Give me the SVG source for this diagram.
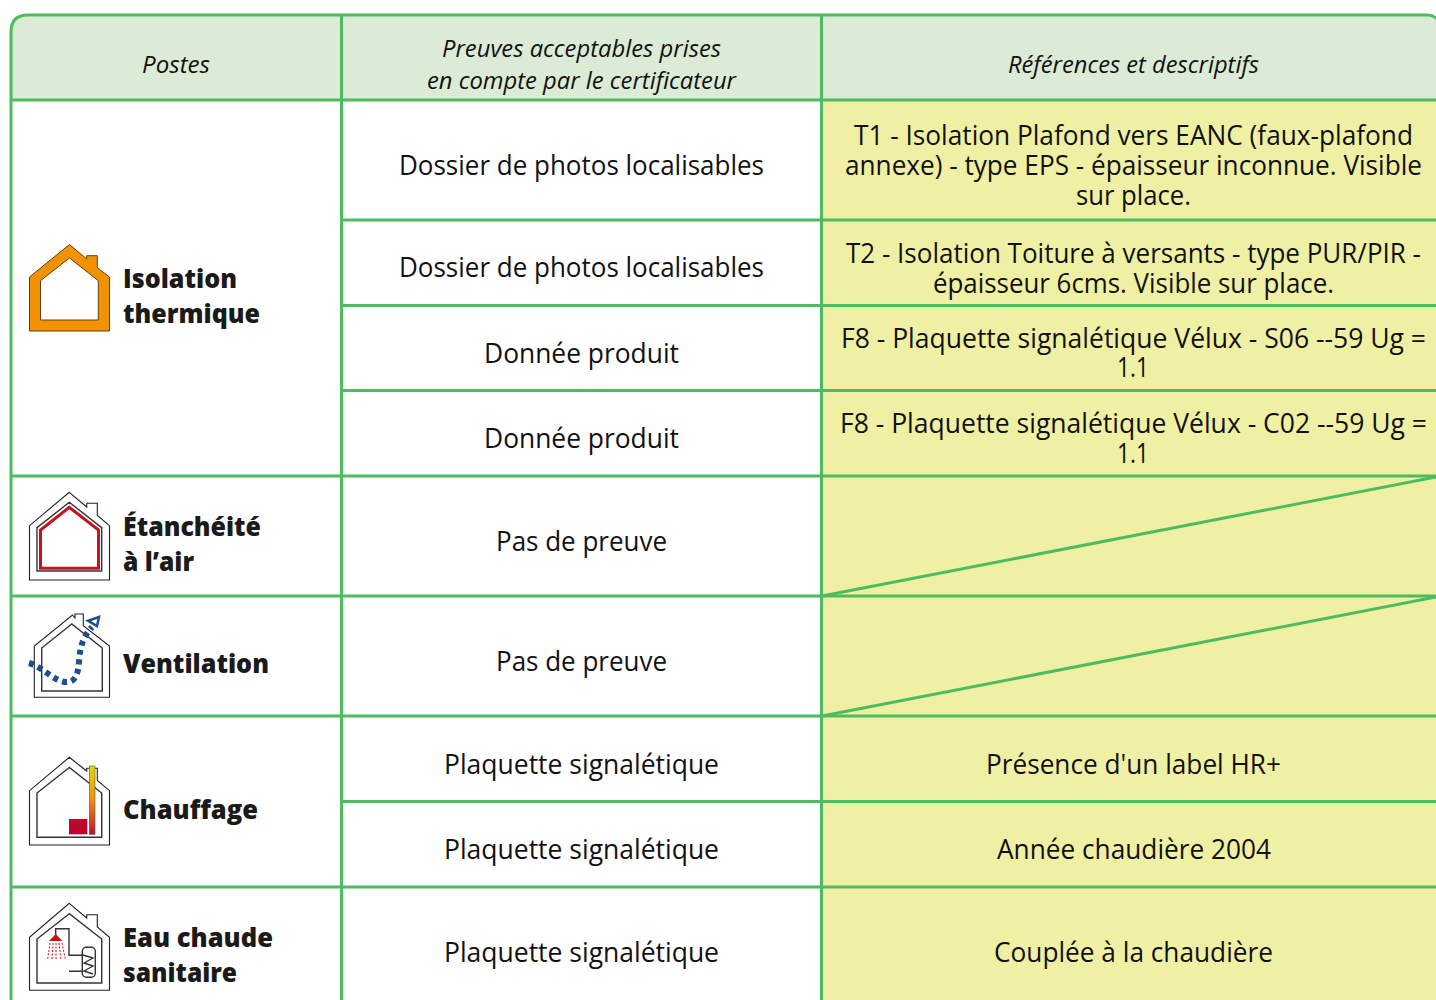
<svg xmlns="http://www.w3.org/2000/svg" width="1436" height="1000" viewBox="0 0 1436 1000">
<style>
text{font-family:"Open Sans","Noto Sans","Liberation Sans",sans-serif;fill:#111;text-anchor:middle}
.h{font-size:23px;font-style:italic}
.b{font-size:26.5px}
.p{font-size:27px;font-weight:800;text-anchor:start;fill:#1a1a1a}
.g{fill:none;stroke:#4dbb5f;stroke-width:3}
.o{fill:#fff;stroke:#222;stroke-width:1.1}
.i{fill:none;stroke:#333;stroke-width:1.4}
</style>
<defs><linearGradient id="fl" x1="0" y1="0" x2="0" y2="1"><stop offset="0" stop-color="#e0d800"/><stop offset=".5" stop-color="#f09010"/><stop offset="1" stop-color="#c0102e"/></linearGradient></defs>
<rect width="1436" height="1000" fill="#fff"/>
<g id="backgrounds">
<path d="M11 1000V32Q11 15 28 15H1428Q1433 15 1436 18V100H11Z" fill="#dbebd6"/>
<rect x="11" y="100" width="1425" height="900" fill="#fff"/>
<rect x="822" y="100" width="614" height="900" fill="#f0f0a4"/>
</g>
<g id="connectors">
<path class="g" d="M11 1000V32Q11 15 28 15H1428Q1433 15 1437 19"/>
<path class="g" d="M341.500 15V1000M821.500 15V1000"/>
<path class="g" d="M11 100H1436M341.500 220H1436M341.500 305.500H1436M341.500 390.500H1436M11 476H1436M11 596H1436M11 716H1436M341.500 801.500H1436M11 887H1436"/>
<path class="g" d="M822 596L1436 477M822 716L1436 597"/>
</g>
<g id="header">
<text class="h" x="176" y="73" textLength="68" lengthAdjust="spacingAndGlyphs">Postes</text>
<text class="h" x="581.500" y="57" textLength="279" lengthAdjust="spacingAndGlyphs">Preuves acceptables prises</text>
<text class="h" x="581.500" y="89" textLength="309" lengthAdjust="spacingAndGlyphs">en compte par le certificateur</text>
<text class="h" x="1133.500" y="73" textLength="251" lengthAdjust="spacingAndGlyphs">Références et descriptifs</text>
</g>
<g id="preuves">
<text class="b" x="581.500" y="175" textLength="365" lengthAdjust="spacingAndGlyphs">Dossier de photos localisables</text>
<text class="b" x="581.500" y="277" textLength="365" lengthAdjust="spacingAndGlyphs">Dossier de photos localisables</text>
<text class="b" x="581.500" y="363" textLength="195" lengthAdjust="spacingAndGlyphs">Donnée produit</text>
<text class="b" x="581.500" y="448" textLength="195" lengthAdjust="spacingAndGlyphs">Donnée produit</text>
<text class="b" x="581.500" y="551" textLength="171" lengthAdjust="spacingAndGlyphs">Pas de preuve</text>
<text class="b" x="581.500" y="671" textLength="171" lengthAdjust="spacingAndGlyphs">Pas de preuve</text>
<text class="b" x="581.500" y="774" textLength="275" lengthAdjust="spacingAndGlyphs">Plaquette signalétique</text>
<text class="b" x="581.500" y="859" textLength="275" lengthAdjust="spacingAndGlyphs">Plaquette signalétique</text>
<text class="b" x="581.500" y="962" textLength="275" lengthAdjust="spacingAndGlyphs">Plaquette signalétique</text>
</g>
<g id="references">
<text class="b" x="1133.500" y="145" textLength="559" lengthAdjust="spacingAndGlyphs">T1 - Isolation Plafond vers EANC (faux-plafond</text>
<text class="b" x="1133.500" y="175" textLength="577" lengthAdjust="spacingAndGlyphs">annexe) - type EPS - épaisseur inconnue. Visible</text>
<text class="b" x="1133.500" y="205" textLength="115" lengthAdjust="spacingAndGlyphs">sur place.</text>
<text class="b" x="1133.500" y="263" textLength="575" lengthAdjust="spacingAndGlyphs">T2 - Isolation Toiture à versants - type PUR/PIR -</text>
<text class="b" x="1133.500" y="293" textLength="401" lengthAdjust="spacingAndGlyphs">épaisseur 6cms. Visible sur place.</text>
<text class="b" x="1133.500" y="348" textLength="585" lengthAdjust="spacingAndGlyphs">F8 - Plaquette signalétique Vélux - S06 --59 Ug =</text>
<text class="b" x="1133" y="377" textLength="32" lengthAdjust="spacingAndGlyphs">1.1</text>
<text class="b" x="1133.500" y="433" textLength="587" lengthAdjust="spacingAndGlyphs">F8 - Plaquette signalétique Vélux - C02 --59 Ug =</text>
<text class="b" x="1133" y="463" textLength="32" lengthAdjust="spacingAndGlyphs">1.1</text>
<text class="b" x="1133.500" y="774" textLength="295" lengthAdjust="spacingAndGlyphs">Présence d'un label HR+</text>
<text class="b" x="1134" y="859" textLength="274" lengthAdjust="spacingAndGlyphs">Année chaudière 2004</text>
<text class="b" x="1133.500" y="962" textLength="279" lengthAdjust="spacingAndGlyphs">Couplée à la chaudière</text>
</g>
<g id="isolation">
<path fill-rule="evenodd" fill="#f39200" stroke="#5a4010" stroke-width="1" d="M69.500 244.500L86.700 259V255.700H97.300V267.700L109.500 277V331H29.500V277ZM69.500 258L40.500 280.700V320H98.300V280.700Z"/>
<text class="p" x="123" y="288" textLength="114" lengthAdjust="spacingAndGlyphs">Isolation</text>
<text class="p" x="123" y="323" textLength="137" lengthAdjust="spacingAndGlyphs">thermique</text>
</g>
<g id="etancheite">
<path class="o" d="M69.300 492.300L86.700 507V503.300H97.300V515.500L109.500 525.700V580H29.500V525.700Z"/>
<path class="i" d="M69.300 502.300L37 527.700V571H101.700V527.700Z"/>
<path fill="none" stroke="#c8101e" stroke-width="3" d="M69.300 507.300L40.500 530V568.300H98.500V530Z"/>
<text class="p" x="123" y="536" textLength="138" lengthAdjust="spacingAndGlyphs">Étanchéité</text>
<text class="p" x="123" y="571" textLength="71" lengthAdjust="spacingAndGlyphs">à l’air</text>
</g>
<g id="ventilation">
<path class="o" d="M72.500 615L75 618V614H83.300V625.700L109.500 646V697.300H34.300V646Z"/>
<path class="i" d="M71.700 624L41.700 648V691H102.300V648Z"/>
<path fill="none" stroke="#1f4e8c" stroke-width="6" stroke-dasharray="5 4.500" d="M29 663C43 667 52 680 65 682C75 683 78 675 79 662C80 648 82 638 92 627"/>
<path fill="#fff" stroke="#1f4e8c" stroke-width="2.500" d="M99 617L88 620.700L97 626Z"/>
<text class="p" x="123" y="673" textLength="146" lengthAdjust="spacingAndGlyphs">Ventilation</text>
</g>
<g id="chauffage">
<path class="o" d="M69.300 757.300L86.700 771V768.300H97.300V780.500L109.500 790.700V845H29.500V790.700Z"/>
<path class="i" d="M69.300 767.500L37 793V837.300H101.700V793Z"/>
<rect x="89.300" y="766" width="5.700" height="68.300" fill="url(#fl)" stroke="#555" stroke-width=".6"/>
<rect x="69" y="819" width="18.300" height="15.300" fill="#c4002f"/>
<text class="p" x="123" y="819" textLength="135" lengthAdjust="spacingAndGlyphs">Chauffage</text>
</g>
<g id="eau-chaude">
<path class="o" d="M69.300 903.300L86.700 918V914.700H97.300V927L109.500 937.300V990.300H29.500V937.300Z"/>
<path class="i" d="M69.300 913.700L37 939V983H101.700V939Z"/>
<path class="i" d="M55.700 935V928.700H69V955.300H82.300M69 971.300H82.300"/>
<rect class="i" x="82.300" y="947.300" width="13" height="30" rx="4"/>
<path class="i" d="M83 955L93 958L84 963L93 966L84 971L93 974"/>
<path fill="#c8101e" d="M55.700 934L49 941H62.500Z"/>
<path fill="none" stroke="#c8101e" stroke-width="1" stroke-dasharray="2 1.500" d="M50 943L47.500 960M53 943L52 960M56 943V960M59 943L61 960M62 943L65.500 960"/>
<text class="p" x="123" y="947" textLength="150" lengthAdjust="spacingAndGlyphs">Eau chaude</text>
<text class="p" x="123" y="982" textLength="114" lengthAdjust="spacingAndGlyphs">sanitaire</text>
</g>
</svg>
